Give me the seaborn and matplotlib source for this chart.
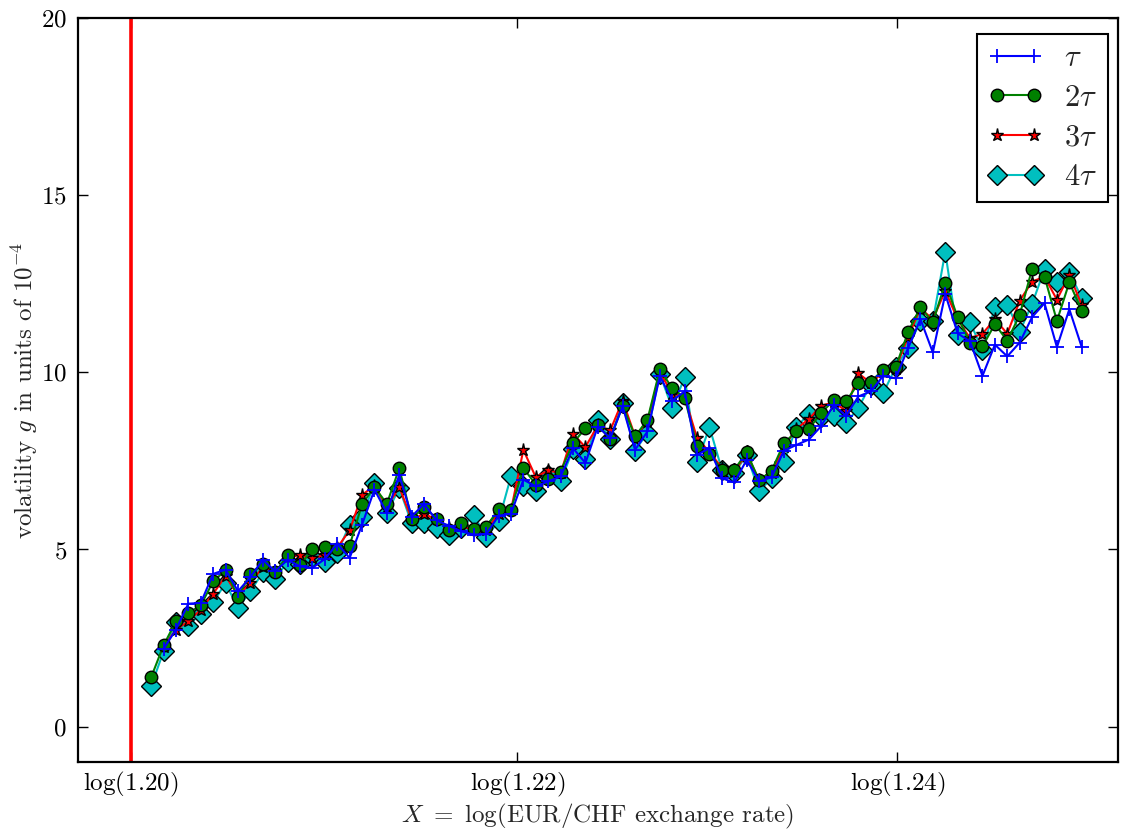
import numpy as np
import pandas as pd
import matplotlib
matplotlib.use("Agg")
import matplotlib.pyplot as plt
import seaborn as sns

# ---- data ----
x_first = 0.18318   # log-price of first bin
x_last = 0.22301    # log-price of last bin
n_bins = 76

tau = [np.nan, 2.19, 2.74, 3.47, 3.49, 4.31, 4.43, 3.82, 4.22, 4.71,
       4.38, 4.71, 4.52, 4.48, 4.73, 5.16, 4.76, 5.70, 6.69, 6.03,
       7.11, 5.93, 6.29, 5.82, 5.67, 5.51, 5.42, 5.43, 5.95, 6.01,
       6.97, 6.78, 6.92, 7.06, 7.86, 7.44, 8.47, 8.14, 9.04, 7.81,
       8.33, 9.90, 9.20, 9.46, 7.67, 7.86, 7.01, 6.89, 7.53, 6.92,
       7.04, 7.79, 7.95, 8.10, 8.48, 9.08, 8.77, 9.32, 9.46, 9.90,
       9.83, 10.68, 11.50, 10.56, 12.21, 11.10, 10.87, 9.90, 10.78, 10.45,
       10.84, 11.56, 11.95, 10.71, 11.78, 10.71]

tau2 = [1.39, 2.29, 2.97, 3.21, 3.42, 4.10, 4.41, 3.66, 4.32, 4.60,
        4.35, 4.83, 4.55, 5.01, 5.06, 5.01, 5.11, 6.28, 6.76, 6.29,
        7.29, 5.87, 6.20, 5.87, 5.56, 5.76, 5.58, 5.63, 6.14, 6.12,
        7.30, 6.83, 6.99, 7.20, 8.00, 8.42, 8.50, 8.12, 9.06, 8.19,
        8.66, 10.08, 9.55, 9.27, 7.93, 7.70, 7.25, 7.25, 7.74, 6.95,
        7.22, 8.00, 8.33, 8.40, 8.85, 9.21, 9.18, 9.69, 9.74, 10.07,
        10.14, 11.13, 11.84, 11.41, 12.52, 11.56, 10.84, 10.73, 11.36, 10.89,
        11.62, 12.92, 12.70, 11.45, 12.54, 11.74]

tau3 = [np.nan, 2.25, 2.74, 2.97, 3.30, 3.75, 4.25, 3.70, 4.05, 4.50,
        4.35, 4.80, 4.83, 4.75, 4.85, 5.05, 5.54, 6.54, 6.80, 6.20,
        6.76, 5.85, 6.00, 5.85, 5.60, 5.65, 5.55, 5.55, 6.00, 6.10,
        7.81, 7.04, 7.23, 7.15, 8.26, 7.89, 8.50, 8.36, 9.20, 8.20,
        8.60, 10.00, 9.40, 9.30, 8.14, 7.75, 7.30, 7.20, 7.70, 6.95,
        7.15, 7.90, 8.40, 8.68, 9.06, 9.15, 8.92, 9.97, 9.70, 10.00,
        10.10, 11.00, 11.80, 11.50, 12.30, 11.50, 10.96, 11.09, 11.50, 11.09,
        12.02, 12.56, 12.70, 12.05, 12.75, 11.90]

tau4 = [1.14, 2.12, 2.95, 2.85, 3.19, 3.51, 4.05, 3.35, 3.82, 4.35,
        4.17, 4.66, 4.60, 4.80, 4.66, 4.90, 5.70, 5.93, 6.87, 6.03,
        6.73, 5.74, 5.74, 5.60, 5.42, 5.60, 5.98, 5.35, 5.79, 7.06,
        6.78, 6.64, 7.11, 6.92, 7.83, 7.55, 8.66, 8.12, 9.13, 7.79,
        8.29, 9.95, 8.99, 9.86, 7.46, 8.45, 7.25, 7.15, 7.67, 6.64,
        7.01, 7.46, 8.45, 8.83, 8.75, 8.77, 8.56, 9.00, 9.65, 9.41,
        10.14, 10.68, 11.46, 11.45, 13.40, 11.06, 11.41, 10.63, 11.83, 11.90,
        11.15, 11.93, 12.91, 12.56, 12.84, 12.09]

series_labels = [r"$\tau$", r"$2\tau$", r"$3\tau$", r"$4\tau$"]
xtick_prices = [1.20, 1.22, 1.24]
xtick_labels = [r"$\log(1.20)$", r"$\log(1.22)$", r"$\log(1.24)$"]
yticks = [0, 5, 10, 15, 20]
barrier_price = 1.20

# ---- style ----
sns.set_style("ticks")
plt.rcParams["font.family"] = ["cmr10", "DejaVu Serif"]
plt.rcParams["mathtext.fontset"] = "cm"
plt.rcParams["axes.unicode_minus"] = False
plt.rcParams["axes.formatter.use_mathtext"] = True

x = np.linspace(x_first, x_last, n_bins)

fig = plt.figure(figsize=(11.22, 8.31), dpi=100)
ax = fig.add_axes([0.0695, 0.0830, 0.9269, 0.8953])

styles = [
    dict(color=(0, 0, 1), marker="+", markersize=9.5, markeredgewidth=1.3,
         markeredgecolor=(0, 0, 1), zorder=6),
    dict(color=(0, 0.5, 0), marker="o", markersize=9.0, markeredgewidth=1.0,
         markeredgecolor="k", zorder=5),
    dict(color=(1, 0, 0), marker="*", markersize=9.5, markeredgewidth=1.0,
         markeredgecolor="k", zorder=4),
    dict(color=(0, 0.75, 0.75), marker="D", markersize=10.5, markeredgewidth=1.0,
         markeredgecolor="k", zorder=3),
]

for vals, lab, st in zip([tau, tau2, tau3, tau4], series_labels, styles):
    sns.lineplot(x=x, y=np.array(vals, dtype=float), ax=ax, label=lab,
                 linewidth=1.5, errorbar=None, sort=False, **st)

ax.axvline(np.log(barrier_price), color=(1, 0, 0), linewidth=2.6, zorder=2)

ax.set_xlim(0.18005, 0.22456)
ax.set_ylim(-1, 20)
ax.set_xticks(np.log(xtick_prices))
ax.set_xticklabels(xtick_labels)
ax.set_yticks(yticks)
ax.tick_params(direction="in", top=True, right=True, length=7, width=1.0,
               labelsize=18, colors="k")
ax.tick_params(axis="x", pad=6)
ax.tick_params(axis="y", pad=8)
for sp in ax.spines.values():
    sp.set_visible(True)
    sp.set_linewidth(1.6)
    sp.set_color("k")

ax.set_xlabel(r"$X\ =\ \log($EUR/CHF exchange rate$)$", fontsize=18, labelpad=2)
ax.set_ylabel(r"volatility $g$ in units of $10^{-4}$", fontsize=18, labelpad=0.5)

handles, labels = ax.get_legend_handles_labels()
leg = ax.legend(handles, labels, loc="upper right",
                bbox_to_anchor=((1108 - 78) / 1040, (762 - 34) / 744),
                borderaxespad=0, numpoints=2, fancybox=False, frameon=True,
                framealpha=1, edgecolor="k", fontsize=22, handlelength=1.8,
                handletextpad=0.7, labelspacing=0.4, borderpad=0.36)
leg.get_frame().set_linewidth(1.5)

fig.savefig("out.png", dpi=100)
